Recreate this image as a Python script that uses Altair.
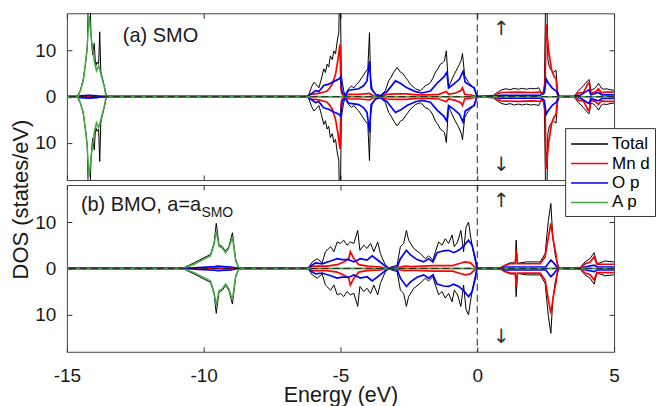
import altair as alt
import pandas as pd

FONT = "Liberation Sans"
SERIES = ["Total", "Mn d", "O p", "A p"]
COLORS = ["#000000", "#ff0000", "#0000ff", "#45a845"]
WIDTHS = [1.0, 1.7, 1.7, 1.5]
X_TICKS = [-15, -10, -5, 0, 5]
Y_TICKS = [-10, 0, 10]
X_DOMAIN = [-15, 5]
Y_DOMAIN = [-18, 18]
ARROW_E = [0.88, 0.88]
ARROW_V = [14.5, -14.8]
ARROW_T = ["\u2191", "\u2193"]

# spin-up DOS (states/eV); spin-down is its mirror image
A_TOTAL = [(-15.0, 0), (-14.62, 0), (-14.5, 1.5), (-14.4, 3.8), (-14.3, 8), (-14.25, 11), (-14.19, 30),
           (-14.12, 13.5), (-14.06, 9), (-14.0, 11.5), (-13.95, 6.5), (-13.9, 7.5), (-13.84, 7), (-13.8, 14),
           (-13.76, 5.5), (-13.63, 2.2), (-13.55, 0),
           (-6.25, 0), (-6.16, 0.4), (-6.05, 2.2), (-5.97, 3.1), (-5.88, 2.6), (-5.79, 1.9), (-5.7, 3.8),
           (-5.61, 6.0), (-5.55, 5.2), (-5.49, 7.0), (-5.43, 6.4), (-5.37, 8.8), (-5.3, 8.0), (-5.24, 9.9),
           (-5.18, 9.2), (-5.12, 12.0), (-5.06, 13.8), (-5.02, 30), (-4.97, 5.0), (-4.94, 3.4), (-4.88, 1.2),
           (-4.82, 0.3), (-4.76, 1.2), (-4.7, 1.7), (-4.6, 2.3), (-4.51, 1.9), (-4.42, 2.6), (-4.33, 3.1),
           (-4.21, 4.2), (-4.09, 5.3), (-4.0, 6.0), (-3.94, 13.8), (-3.9, 4.0), (-3.84, 1.7), (-3.72, 0.5),
           (-3.54, 0.2), (-3.36, 1.3), (-3.24, 3.4), (-3.15, 4.2), (-3.05, 5.3), (-2.93, 6.3), (-2.81, 5.3),
           (-2.72, 5.0), (-2.63, 4.2), (-2.54, 3.5), (-2.45, 2.7), (-2.35, 2.2), (-2.26, 1.7), (-2.08, 1.3),
           (-1.98, 1.8), (-1.9, 2.4), (-1.8, 2.6), (-1.71, 3.1), (-1.62, 4.0), (-1.53, 5.3), (-1.44, 6.0),
           (-1.35, 7.0), (-1.27, 7.3), (-1.2, 7.7), (-1.13, 9.9), (-1.05, 2.0), (-0.98, 3.0), (-0.92, 3.8),
           (-0.86, 4.6), (-0.8, 5.3), (-0.72, 6.2), (-0.65, 7.0), (-0.58, 8.0), (-0.54, 9.3), (-0.46, 4.5),
           (-0.39, 3.8), (-0.32, 3.1), (-0.22, 2.5), (-0.13, 1.9), (-0.01, 0),
           (0.6, 0.3), (0.7, 0.8), (0.78, 1.1), (0.9, 1.5), (1.05, 1.7), (1.2, 1.5), (1.35, 1.8), (1.5, 1.6),
           (1.65, 1.8), (1.8, 1.6), (1.95, 1.8), (2.1, 1.7), (2.25, 1.9), (2.36, 0.5), (2.45, 1.5), (2.52, 30),
           (2.58, 8.0), (2.64, 6.3), (2.72, 5.6), (2.79, 5.3), (2.88, 5.7), (2.93, 1.3), (3.0, 0),
           (3.52, 0), (3.62, 0.7), (3.7, 1.3), (3.8, 1.8), (3.88, 2.4), (3.96, 2.9), (4.03, 3.4), (4.09, 3.7),
           (4.15, 1.4), (4.22, 1.5), (4.31, 1.9), (4.38, 2.4), (4.43, 2.9), (4.53, 1.9), (4.62, 1.6),
           (4.73, 1.7), (4.85, 1.5), (4.98, 1.4), (5.0, 1.4)]

A_MND = [(-15.0, 0), (-6.2, 0), (-6.1, 0.5), (-5.95, 0.6), (-5.8, 0.7), (-5.6, 1.0), (-5.49, 1.2), (-5.4, 1.8),
         (-5.3, 2.7), (-5.18, 4.9), (-5.1, 7.7), (-5.02, 11.3), (-4.98, 1.5), (-4.94, 0.5), (-4.85, 0.1),
         (-4.7, 0.5), (-4.3, 0.5), (-3.94, 0.7), (-3.8, 0.2), (-3.5, 0.1), (-3.3, 0.5), (-3.0, 0.6),
         (-2.6, 0.6), (-2.2, 0.4), (-1.8, 0.4), (-1.4, 0.5), (-1.13, 1.1), (-1.05, 0.5), (-0.8, 0.8),
         (-0.6, 1.3), (-0.54, 1.9), (-0.46, 0.5), (-0.2, 0.3), (-0.01, 0),
         (0.6, 0), (0.75, 0.7), (0.9, 0.9), (1.5, 1.0), (2.0, 0.9), (2.3, 1.0), (2.4, 0.6), (2.48, 3.0),
         (2.52, 15.6), (2.6, 10.2), (2.72, 5.7), (2.8, 4.5), (2.88, 3.8), (2.93, 0.5), (3.0, 0),
         (3.55, 0), (3.7, 0.8), (3.88, 0.9), (3.96, 1.8), (4.03, 2.7), (4.09, 3.1), (4.15, 0.8), (4.31, 1.0),
         (4.43, 1.7), (4.53, 0.9), (4.73, 1.0), (5.0, 1.0)]

A_OP = [(-15.0, 0), (-14.6, 0), (-14.5, 0.2), (-14.2, 0.3), (-13.9, 0.2), (-13.8, 0), (-6.2, 0), (-6.1, 0.5),
        (-5.91, 1.3), (-5.79, 1.1), (-5.61, 2.4), (-5.43, 2.7), (-5.24, 3.3), (-5.06, 3.8), (-5.0, 4.2),
        (-4.94, 1.0), (-4.82, 0.3), (-4.7, 1.4), (-4.33, 1.7), (-4.15, 2.4), (-4.03, 3.4), (-3.94, 7.7),
        (-3.88, 1.7), (-3.72, 0.5), (-3.54, 0.2), (-3.3, 1.1), (-2.99, 3.4), (-2.81, 2.9), (-2.57, 1.9),
        (-2.26, 1.1), (-2.02, 0.8), (-1.71, 1.2), (-1.47, 2.9), (-1.23, 4.2), (-1.11, 5.3), (-1.05, 1.9),
        (-0.86, 2.7), (-0.65, 3.8), (-0.52, 5.5), (-0.44, 3.1), (-0.26, 2.4), (-0.11, 1.9), (-0.01, 0),
        (0.6, 0), (0.8, 0.3), (2.3, 0.3), (2.45, 0.8), (2.52, 3.8), (2.6, 2.9), (2.75, 1.8), (2.91, 1.1),
        (2.97, 0), (3.55, 0), (3.8, 0.4), (4.03, 1.3), (4.09, 1.5), (4.15, 0.4), (4.43, 0.9), (4.55, 0.4),
        (5.0, 0.4)]

A_AP = [(-15.0, 0), (-14.59, 0), (-14.5, 1.5), (-14.4, 3.4), (-14.27, 9.9), (-14.19, 17.4), (-14.11, 12.8),
        (-14.0, 7.7), (-13.92, 5.6), (-13.84, 6.7), (-13.76, 5.0), (-13.63, 2.0), (-13.57, 0), (5.0, 0)]

B_TOTAL = [(-15.0, 0), (-10.78, 0), (-10.35, 1.2), (-9.99, 2.3), (-9.75, 3.0), (-9.62, 5.5), (-9.54, 9.7),
           (-9.44, 5.1), (-9.32, 4.7), (-9.2, 3.7), (-9.08, 4.7), (-8.95, 7.7), (-8.83, 1.9), (-8.71, 0),
           (-6.25, 0), (-6.16, 0.2), (-6.03, 1.4), (-5.85, 2.1), (-5.67, 1.2), (-5.55, 3.6), (-5.36, 4.7),
           (-5.24, 3.6), (-5.12, 5.7), (-5.0, 5.4), (-4.88, 6.1), (-4.76, 5.0), (-4.64, 5.7), (-4.51, 5.4),
           (-4.37, 8.2), (-4.29, 3.9), (-4.15, 5.0), (-4.03, 4.3), (-3.9, 5.4), (-3.78, 3.6), (-3.64, 5.7),
           (-3.54, 3.2), (-3.36, 0.7), (-3.24, 0.1),
           (-2.93, 0.7), (-2.81, 4.7), (-2.69, 5.4), (-2.59, 8.2), (-2.51, 6.1), (-2.32, 4.3), (-2.08, 3.2),
           (-1.9, 2.1), (-1.78, 2.7), (-1.62, 1.8), (-1.53, 3.6), (-1.41, 5.7), (-1.29, 5.0), (-1.17, 6.4),
           (-1.05, 5.4), (-0.92, 7.2), (-0.84, 4.7), (-0.72, 5.7), (-0.6, 8.2), (-0.5, 3.6), (-0.41, 8.9),
           (-0.32, 10.0), (-0.23, 6.4), (-0.13, 3.2), (-0.01, 0),
           (0.84, 0.2), (1.02, 0.7), (1.2, 1.2), (1.39, 1.2), (1.42, 6.1), (1.47, 1.1), (1.81, 1.4),
           (2.3, 1.4), (2.48, 3.2), (2.6, 10.4), (2.69, 14.0), (2.76, 6.8), (2.85, 2.9), (2.93, 1.1), (3.0, 0),
           (3.76, 0.2), (3.94, 1.4), (4.12, 2.1), (4.27, 3.4), (4.37, 1.1), (4.49, 1.2), (4.67, 1.6),
           (4.98, 1.4), (5.0, 1.4)]

B_MND = [(-15.0, 0), (-6.2, 0), (-6.0, 0.5), (-5.5, 0.5), (-5.12, 0.8), (-4.88, 1.4), (-4.7, 2.1), (-4.64, 3.6),
         (-4.51, 2.1), (-4.33, 0.8), (-4.03, 0.5), (-3.54, 0.3), (-3.3, 0), (-2.9, 0.2), (-2.65, 0.5),
         (-2.4, 0.4), (-1.6, 0.6), (-0.9, 0.6), (-0.62, 1.1), (-0.44, 1.4), (-0.25, 1.2), (-0.13, 0.5),
         (-0.01, 0),
         (0.84, 0), (1.02, 0.7), (1.2, 1.0), (1.39, 1.0), (1.42, 3.9), (1.47, 1.0), (2.3, 1.0), (2.48, 2.5),
         (2.6, 6.8), (2.69, 9.7), (2.79, 5.7), (2.88, 2.9), (2.93, 0.5), (3.0, 0),
         (3.76, 0), (3.94, 1.0), (4.12, 1.3), (4.27, 2.5), (4.37, 0.9), (4.67, 0.9), (5.0, 0.9)]

B_OP = [(-15.0, 0), (-10.6, 0), (-10.2, 0.2), (-9.6, 0.4), (-9.5, 0.5), (-9.0, 0.3), (-8.75, 0), (-6.2, 0),
        (-6.1, 0.5), (-5.91, 1.2), (-5.67, 1.0), (-5.36, 1.6), (-5.12, 2.1), (-4.94, 1.9), (-4.7, 1.9),
        (-4.51, 1.4), (-4.27, 2.1), (-4.03, 1.8), (-3.84, 2.7), (-3.6, 1.6), (-3.36, 0.5), (-3.24, 0.1),
        (-2.93, 0.3), (-2.81, 2.1), (-2.59, 3.9), (-2.44, 2.9), (-2.2, 1.9), (-1.96, 1.4), (-1.78, 2.1),
        (-1.62, 1.4), (-1.47, 3.4), (-1.23, 3.8), (-1.05, 3.9), (-0.86, 3.4), (-0.68, 3.9), (-0.5, 4.8),
        (-0.32, 6.1), (-0.19, 5.0), (-0.07, 2.1), (-0.01, 0),
        (0.84, 0), (1.0, 0.3), (2.5, 0.3), (2.69, 1.8), (2.79, 1.2), (2.9, 0.3), (3.0, 0), (3.76, 0),
        (3.94, 0.3), (4.27, 0.7), (4.4, 0.3), (5.0, 0.3)]

B_AP = [(-15.0, 0), (-10.78, 0), (-10.35, 0.9), (-9.99, 2.0), (-9.75, 2.7), (-9.62, 5.2), (-9.54, 8.0),
        (-9.44, 4.8), (-9.32, 4.4), (-9.2, 3.4), (-9.08, 4.4), (-8.95, 6.8), (-8.83, 1.6), (-8.71, 0), (5.0, 0)]


def spin_frame(points, name):
    rows = [{"E": e, "v": v, "spin": "up", "series": name} for e, v in points]
    rows += [{"E": e, "v": -v, "spin": "down", "series": name} for e, v in points]
    return pd.DataFrame(rows)


XS = alt.Scale(domain=X_DOMAIN, nice=False, zero=False)
YS = alt.Scale(domain=Y_DOMAIN, nice=False, zero=False)

LEGEND = alt.Legend(title=None, orient="none", legendX=499, legendY=115,
                    symbolType="M-1,0H2.7", symbolSize=400, symbolStrokeWidth=1.5,
                    labelOffset=20, labelFont=FONT, labelFontSize=17,
                    labelColor="#000000", strokeColor="#333333", fillColor="#ffffff",
                    padding=5, rowPadding=0.5)


def axis(orient, show, **kw):
    d = dict(orient=orient, offset=-5, tickSize=5, tickWidth=1, tickColor="#333333",
             domain=False, grid=False, labels=show, labelFont=FONT, labelFontSize=19,
             labelColor="#1a1a1a", titleFont=FONT, titleFontSize=21.5, titleColor="#1a1a1a",
             titleFontWeight="normal", labelFlush=False)
    d.update(kw)
    return alt.Axis(**d)


def panel(parts, bottom, ytitle, texts):
    layers = []
    for i, (name, pts) in enumerate(parts):
        if i == 0:
            xa = axis("bottom", bottom, values=X_TICKS, labelExpr="'' + datum.value", labelPadding=15,
                      titleY=55, titleBaseline="alphabetic")
            ya = axis("left", True, values=Y_TICKS, labelExpr="'' + abs(datum.value)", labelPadding=11,
                      titleX=-51, titleY=186, titleAngle=270, titleAlign="center", titleBaseline="middle",
                      titleFontSize=22)
        elif i == 1:
            xa = axis("top", False, values=X_TICKS)
            ya = axis("right", False, values=Y_TICKS)
        else:
            xa = None
            ya = None
        xt = "Energy (eV)" if (i == 0 and bottom) else None
        yt = ytitle if i == 0 else None
        layers.append(
            alt.Chart(spin_frame(pts, name)).mark_line(clip=True, strokeWidth=WIDTHS[i]).encode(
                x=alt.X("E:Q", scale=XS, axis=xa, title=xt),
                y=alt.Y("v:Q", scale=YS, axis=ya, title=yt),
                color=alt.Color("series:N", scale=alt.Scale(domain=SERIES, range=COLORS), legend=LEGEND),
                detail="spin:N",
            )
        )
    vline = alt.Chart(pd.DataFrame({"E": [0]})).mark_rule(
        color="#222222", strokeWidth=1, strokeDash=[7, 4]).encode(
        x=alt.X("E:Q", scale=XS, axis=None))
    hline = alt.Chart(pd.DataFrame({"v": [0]})).mark_rule(
        color="#222222", strokeWidth=1, strokeDash=[7, 4]).encode(
        y=alt.Y("v:Q", scale=YS, axis=None))
    arrows = alt.Chart(pd.DataFrame({"E": ARROW_E, "v": ARROW_V, "t": ARROW_T})).mark_text(
        font="DejaVu Sans", fontSize=20, fontWeight="normal", color="#333333", baseline="middle").encode(
        x=alt.X("E:Q", scale=XS, axis=None), y=alt.Y("v:Q", scale=YS, axis=None), text="t:N")
    layers += [vline, hline, arrows]
    for txt, px, py, fs in texts:
        layers.append(
            alt.Chart(pd.DataFrame({"t": [txt]})).mark_text(
                font=FONT, fontSize=fs, color="#1a1a1a", align="left", baseline="alphabetic").encode(
                x=alt.value(px), y=alt.value(py), text="t:N"))
    return alt.layer(*layers).resolve_axis(x="independent", y="independent").properties(
        width=548, height=167)


panel_a = panel([("Total", A_TOTAL), ("Mn d", A_MND), ("O p", A_OP), ("A p", A_AP)], False,
                "DOS (states/eV)", [("(a) SMO", 56, 28.5, 20)])
panel_b = panel([("Total", B_TOTAL), ("Mn d", B_MND), ("O p", B_OP), ("A p", B_AP)], True,
                None, [("(b) BMO, a=a", 14, 26, 20), ("SMO", 134.7, 32, 14)])

chart = alt.vconcat(panel_a, panel_b, spacing=5, bounds="flush").properties(
    padding={"left": 9, "top": 12, "right": 0, "bottom": 0}
).configure_view(stroke="#444444", strokeWidth=1)

chart.save("out.html", embed_options={"renderer": "svg", "actions": False})
